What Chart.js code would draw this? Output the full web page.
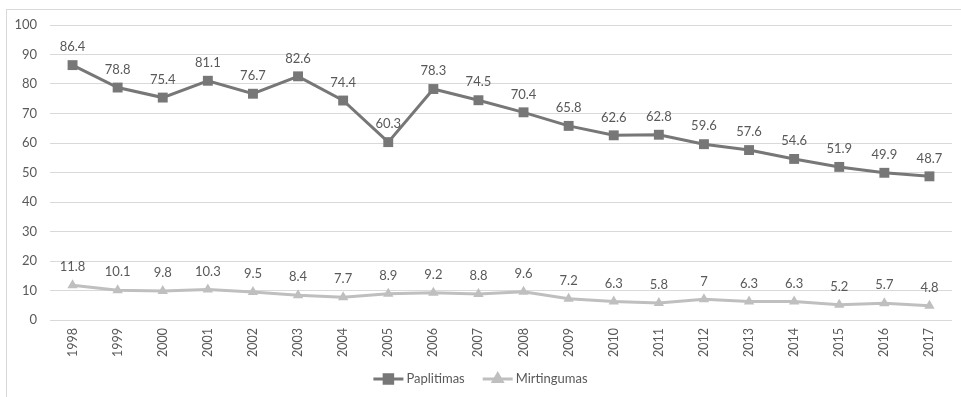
<!DOCTYPE html>
<html>
<head>
<meta charset="utf-8">
<title>Paplitimas ir mirtingumas</title>
<script src="https://cdn.jsdelivr.net/npm/chart.js@4.4.1/dist/chart.umd.min.js"></script>
<style>
  html, body { margin: 0; padding: 0; background: #fff; overflow: hidden; }
  #wrap { position: relative; width: 961px; height: 397px; }
  #frame {
    position: absolute; left: 6px; top: 9px; width: 1000px; height: 500px;
    border-left: 1px solid #D9D9D9; border-top: 1px solid #D9D9D9;
  }
  canvas { position: absolute; left: 0; top: 0; }
</style>
</head>
<body>
<div id="wrap">
  <div id="frame"></div>
  <canvas id="chart" width="961" height="397"></canvas>
</div>
<script>
// ── Data ───────────────────────────────────────────────────
const YEARS = ['1998','1999','2000','2001','2002','2003','2004','2005','2006','2007',
               '2008','2009','2010','2011','2012','2013','2014','2015','2016','2017'];
const PAPLITIMAS  = [86.4, 78.8, 75.4, 81.1, 76.7, 82.6, 74.4, 60.3, 78.3, 74.5,
                     70.4, 65.8, 62.6, 62.8, 59.6, 57.6, 54.6, 51.9, 49.9, 48.7];
const MIRTINGUMAS = [11.8, 10.1, 9.8, 10.3, 9.5, 8.4, 7.7, 8.9, 9.2, 8.8,
                     9.6, 7.2, 6.3, 5.8, 7, 6.3, 6.3, 5.2, 5.7, 4.8];
const Y_TICKS = [0, 10, 20, 30, 40, 50, 60, 70, 80, 90, 100];

const FONT = "Lato, 'Liberation Sans', sans-serif";
const TEXT = '#595959';
const DARK = '#777777';
const LIGHT = '#BFBFBF';

// ── Plugins ────────────────────────────────────────────────

// value labels above every point
const valueLabels = {
  id: 'valueLabels',
  afterDatasetsDraw(chart) {
    const ctx = chart.ctx;
    ctx.save();
    ctx.font = `13px ${FONT}`;
    ctx.fillStyle = TEXT;
    ctx.textAlign = 'center';
    ctx.textBaseline = 'middle';
    chart.data.datasets.forEach((ds, i) => {
      chart.getDatasetMeta(i).data.forEach((pt, j) => {
        ctx.fillText(String(ds.data[j]), pt.x, pt.y - 18);
      });
    });
    ctx.restore();
  },
};

// legend at the bottom: line sample with marker, then name
const bottomLegend = {
  id: 'bottomLegend',
  afterDraw(chart) {
    const ctx = chart.ctx;
    const y = 379;
    const sample = 30, gap = 3, spacing = 18;
    ctx.save();
    ctx.font = `13px ${FONT}`;
    const items = chart.data.datasets.map(ds => ({
      ds, w: sample + gap + ctx.measureText(ds.label).width,
    }));
    const total = items.reduce((s, it) => s + it.w, 0) + spacing * (items.length - 1);
    let x = chart.width / 2 - total / 2;
    items.forEach(({ ds, w }) => {
      ctx.strokeStyle = ds.borderColor;
      ctx.lineWidth = 3;
      ctx.beginPath();
      ctx.moveTo(x, y);
      ctx.lineTo(x + sample, y);
      ctx.stroke();
      Chart.helpers.drawPoint(ctx, {
        pointStyle: ds.pointStyle, radius: ds.pointRadius - 1, borderWidth: 1,
      }, x + sample / 2, y);
      ctx.fillStyle = ds.borderColor;
      ctx.fill();
      ctx.fillStyle = TEXT;
      ctx.textAlign = 'left';
      ctx.textBaseline = 'middle';
      ctx.fillText(ds.label, x + sample + gap, y);
      x += w + spacing;
    });
    ctx.restore();
  },
};

// ── Chart ──────────────────────────────────────────────────

new Chart(document.getElementById('chart'), {
  type: 'line',
  data: {
    labels: YEARS,
    datasets: [
      {
        label: 'Paplitimas',
        data: PAPLITIMAS,
        borderColor: DARK,
        backgroundColor: DARK,
        borderWidth: 3,
        pointStyle: 'rect',
        pointRadius: 7,
        pointBorderWidth: 0,
        tension: 0,
      },
      {
        label: 'Mirtingumas',
        data: MIRTINGUMAS,
        borderColor: LIGHT,
        backgroundColor: LIGHT,
        borderWidth: 3,
        pointStyle: 'triangle',
        pointRadius: 6,
        pointBorderWidth: 0,
        tension: 0,
      },
    ],
  },
  options: {
    responsive: false,
    animation: false,
    layout: { padding: { top: 25, right: 9, left: 0, bottom: 0 } },
    plugins: {
      legend: { display: false },
      tooltip: { enabled: false },
    },
    scales: {
      x: {
        offset: true,
        grid: { display: false, drawTicks: false },
        border: { display: false },
        ticks: {
          color: TEXT, font: { family: FONT, size: 12.5 },
          minRotation: 90, maxRotation: 90, padding: 8, autoSkip: false,
        },
        afterFit: s => { s.height = 77; },
      },
      y: {
        min: 0,
        max: 100,
        afterBuildTicks: s => { s.ticks = Y_TICKS.map(v => ({ value: v })); },
        grid: { color: '#D9D9D9', lineWidth: 1, drawTicks: false },
        border: { display: false },
        ticks: { color: TEXT, font: { family: FONT, size: 13 }, padding: 13 },
        afterFit: s => { s.width = 50; },
      },
    },
  },
  plugins: [valueLabels, bottomLegend],
});
</script>
</body>
</html>
